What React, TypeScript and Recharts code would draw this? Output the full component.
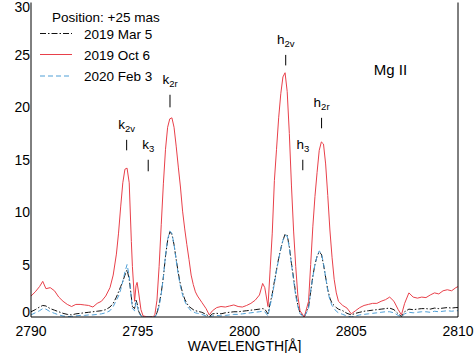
import React from 'react';
import { LineChart, Line, XAxis, YAxis, Legend, ReferenceLine, ReferenceDot } from 'recharts';

const wavelength = [
  2790.0, 2790.2, 2790.4, 2790.55, 2790.7, 2790.9, 2791.1, 2791.3, 2791.5, 2791.7,
  2791.9, 2792.1, 2792.3, 2792.5, 2792.7, 2792.9, 2793.1, 2793.3, 2793.5, 2793.7,
  2793.85, 2794.0, 2794.1, 2794.2, 2794.3, 2794.4, 2794.5, 2794.6, 2794.7, 2794.75,
  2794.85, 2794.92, 2794.97, 2795.05, 2795.15, 2795.25, 2795.5, 2795.7, 2795.8, 2795.9,
  2796.0, 2796.1, 2796.2, 2796.3, 2796.4, 2796.5, 2796.6, 2796.7, 2796.8, 2796.9,
  2797.0, 2797.1, 2797.2, 2797.3, 2797.4, 2797.5, 2797.6, 2797.7, 2797.8, 2798.0,
  2798.2, 2798.35, 2798.5, 2798.7, 2798.9, 2799.1, 2799.3, 2799.5, 2799.7, 2799.9,
  2800.1, 2800.3, 2800.5, 2800.7, 2800.85, 2800.95, 2801.1, 2801.2, 2801.3, 2801.4,
  2801.5, 2801.6, 2801.7, 2801.8, 2801.9, 2802.0, 2802.1, 2802.2, 2802.3, 2802.4,
  2802.5, 2802.6, 2802.8, 2803.0, 2803.1, 2803.2, 2803.3, 2803.4, 2803.5, 2803.6,
  2803.7, 2803.8, 2803.9, 2804.0, 2804.1, 2804.2, 2804.3, 2804.4, 2804.6, 2804.8,
  2805.0, 2805.2, 2805.4, 2805.6, 2805.8, 2806.0, 2806.2, 2806.4, 2806.6, 2806.8,
  2807.0, 2807.2, 2807.35, 2807.5, 2807.7, 2807.9, 2808.1, 2808.3, 2808.5, 2808.7,
  2808.9, 2809.1, 2809.3, 2809.5, 2809.7, 2809.9, 2810.0,
];

const oct6 = [
  2.0, 2.4, 2.9, 3.4, 2.7, 2.8, 2.5, 1.9, 1.5, 1.2,
  1.0, 1.2, 1.2, 1.15, 1.1, 0.95, 1.3, 1.5, 2.0, 2.8,
  4.0, 6.0, 8.0, 10.5, 12.8, 14.1, 14.2, 12.8, 7.2, 4.8,
  1.5, 3.0, 3.3, 2.2, 0.7, 0.1, 0.0, 0.0, 0.2, 1.6,
  4.8, 8.8, 12.7, 16.0, 18.1, 18.9, 19.0, 18.1, 16.3, 14.3,
  12.4, 10.1, 8.4, 6.9, 5.5, 4.0, 3.1, 2.4, 2.0, 1.4,
  0.8, 0.2, 0.6, 0.9, 1.0, 0.95, 1.05, 1.15, 1.0, 0.95,
  1.1, 1.3, 1.6, 2.1, 3.2, 2.8, 1.0, 4.5, 8.0, 13.0,
  16.0, 19.0, 21.3, 22.9, 23.3, 21.5, 17.5, 12.5, 8.2, 4.8,
  2.0, 0.6, 0.0, 1.5, 5.0, 8.6, 11.5, 13.8, 15.9, 16.7,
  16.5, 14.6, 11.6, 8.3, 5.7, 3.6, 2.3, 1.5, 1.1, 0.85,
  0.3, 0.6, 0.9, 1.1, 1.2, 1.3, 1.3, 1.5, 1.65, 1.9,
  1.5, 0.7, 0.2, 1.3, 2.3, 1.9, 1.8, 1.9, 1.85, 2.1,
  2.3, 2.2, 2.5, 2.6, 2.5, 2.8, 2.9,
];

const mar5 = [
  0.5, 0.7, 0.95, 1.1, 1.05, 0.8, 0.65, 0.5, 0.35, 0.25,
  0.2, 0.3, 0.35, 0.4, 0.45, 0.5, 0.55, 0.6, 0.7, 0.95,
  1.3, 1.9, 2.4, 2.9, 3.4, 4.0, 4.5, 3.6, 1.9, 1.0,
  0.8, 1.6, 1.3, 0.5, 0.15, 0.0, 0.0, 0.0, 0.05, 0.4,
  1.2, 2.3, 3.8, 5.8, 7.3, 8.1, 7.9, 6.9, 5.5, 4.2,
  3.1, 2.3, 1.7, 1.3, 1.0, 0.85, 0.7, 0.6, 0.55, 0.45,
  0.25, 0.05, 0.3, 0.35, 0.3, 0.4, 0.45, 0.5, 0.5, 0.55,
  0.6, 0.65, 0.7, 0.75, 0.8, 0.75, 0.3, 1.3, 2.2, 3.4,
  4.5, 5.6, 6.5, 7.3, 7.9, 7.8, 6.7, 5.1, 3.7, 2.2,
  1.1, 0.4, 0.0, 1.0, 2.4, 3.9, 5.0, 5.8, 6.2, 6.0,
  5.0, 3.8, 2.6, 1.8, 1.3, 1.1, 0.9, 0.75, 0.6, 0.35,
  0.2, 0.35, 0.45, 0.55, 0.6, 0.65, 0.7, 0.75, 0.8, 0.85,
  0.7, 0.3, 0.05, 0.5, 0.75, 0.7, 0.75, 0.8, 0.8, 0.75,
  0.85, 0.8, 0.85, 0.9, 0.85, 0.9, 0.9,
];

const feb3 = [
  0.2, 0.4, 0.6, 0.8, 0.75, 0.5, 0.35, 0.2, 0.1, 0.05,
  0.05, 0.1, 0.15, 0.15, 0.2, 0.2, 0.25, 0.3, 0.4, 0.6,
  1.0, 1.6, 2.0, 2.6, 3.4, 4.3, 5.0, 3.9, 1.8, 0.8,
  0.6, 1.4, 1.1, 0.4, 0.1, 0.0, 0.0, 0.0, 0.0, 0.3,
  1.0, 2.2, 3.8, 5.9, 7.4, 8.2, 8.0, 6.9, 5.4, 4.0,
  2.9, 2.1, 1.5, 1.1, 0.8, 0.6, 0.5, 0.4, 0.35, 0.25,
  0.1, 0.0, 0.1, 0.15, 0.1, 0.15, 0.2, 0.25, 0.25, 0.3,
  0.35, 0.4, 0.45, 0.5, 0.55, 0.5, 0.1, 1.1, 2.0, 3.2,
  4.4, 5.5, 6.5, 7.3, 7.8, 7.7, 6.6, 5.0, 3.5, 2.0,
  1.0, 0.3, 0.0, 0.8, 2.5, 3.8, 5.0, 5.8, 6.3, 6.1,
  5.1, 3.8, 2.5, 1.6, 1.1, 0.8, 0.55, 0.4, 0.25, 0.1,
  0.0, 0.1, 0.2, 0.25, 0.3, 0.35, 0.4, 0.45, 0.5, 0.5,
  0.4, 0.15, 0.0, 0.3, 0.45, 0.4, 0.45, 0.5, 0.5, 0.45,
  0.55, 0.5, 0.55, 0.6, 0.55, 0.6, 0.6,
];

const xMajorTicks = [2790, 2795, 2800, 2805, 2810];
const xMinorTicks = [
  2790, 2791, 2792, 2793, 2794, 2795, 2796, 2797, 2798, 2799, 2800,
  2801, 2802, 2803, 2804, 2805, 2806, 2807, 2808, 2809, 2810,
];
const yMajorTicks = [0, 5, 10, 15, 20, 25, 30];
const yMinorTicks = [
  0, 1, 2, 3, 4, 5, 6, 7, 8, 9, 10, 11, 12, 13, 14, 15, 16, 17, 18, 19, 20,
  21, 22, 23, 24, 25, 26, 27, 28, 29, 30,
];

const seriesKeys = ['mar5', 'oct6', 'feb3'];
const seriesNames = ['2019 Mar 5', '2019 Oct 6', '2020 Feb 3'];
const seriesColors = ['#111111', '#e8404a', '#4f9fd6'];
const seriesDash = ['6 2 1.5 2', undefined, '5 3'];

const lineMarks = [
  { base: 'k', sub: '2v', lambda: 2794.48, from: 15.9, to: 16.9 },
  { base: 'k', sub: '3', lambda: 2795.49, from: 13.9, to: 15.0 },
  { base: 'k', sub: '2r', lambda: 2796.51, from: 20.0, to: 21.2 },
  { base: 'h', sub: '2v', lambda: 2801.93, from: 24.0, to: 25.0 },
  { base: 'h', sub: '3', lambda: 2802.73, from: 14.0, to: 15.0 },
  { base: 'h', sub: '2r', lambda: 2803.61, from: 18.0, to: 19.0 },
];

const ionLabel = { text: 'Mg II', lambda: 2806.84, value: 23.1 };
const positionTitle = 'Position: +25 mas';

const data = wavelength.map((w, i) => ({
  w,
  mar5: mar5[i],
  oct6: oct6[i],
  feb3: feb3[i],
}));

const FONT = '"Liberation Sans", Arial, Helvetica, sans-serif';
const THIN = 0.01;

const YTick = (props: any) => {
  const { x, y, payload } = props;
  const yy = Math.min(Math.max(y, 7), 312);
  return (
    <text x={x} y={yy} dy="0.355em" textAnchor="end" fontSize={14} fill="#000" fontFamily={FONT}>
      {payload.value}
    </text>
  );
};

const LegendBox = () => (
  <svg width={180} height={90} style={{ display: 'block' }}>
    <text x={52} y={22.3} fontSize={13.5} fill="#000" fontFamily={FONT}>
      {positionTitle}
    </text>
    {seriesNames.map((n, i) => {
      const cy = [33.5, 54.5, 76][i];
      return (
        <g key={n}>
          <line x1={40} x2={72} y1={cy} y2={cy} stroke={seriesColors[i]} strokeWidth={1} strokeDasharray={seriesDash[i]} />
          <text x={84} y={cy + 5} fontSize={13.5} fill="#000" fontFamily={FONT}>
            {n}
          </text>
        </g>
      );
    })}
  </svg>
);

const markLabel = (base: string, sub: string) => (props: any) => {
  const vb = props.viewBox || {};
  return (
    <text x={vb.x} y={vb.y - 11} textAnchor="middle" fontSize={13.5} fill="#000" fontFamily={FONT}>
      {base}
      <tspan dy={3} fontSize={9.5}>{sub}</tspan>
    </text>
  );
};

const ionLabelContent = (props: any) => {
  const vb = props.viewBox || {};
  return (
    <text x={vb.x} y={vb.y} textAnchor="middle" fontSize={15} fill="#000" fontFamily={FONT}>
      {ionLabel.text}
    </text>
  );
};

export default function App() {
  const common = { type: 'number' as const, allowDataOverflow: true, interval: 0 as const };
  return (
    <div style={{ position: 'absolute', left: 0, top: 0, width: 474, height: 353, background: '#fff', fontFamily: FONT }}>
      <LineChart width={474} height={353} data={data} margin={{ top: 2.5, right: 16, bottom: 0, left: 0 }}>
        <XAxis
          xAxisId="x"
          dataKey="w"
          {...common}
          domain={[2790, 2810]}
          ticks={xMajorTicks}
          height={36}
          tickLine={false}
          tickSize={0}
          tickMargin={9}
          axisLine={{ stroke: '#000' }}
          tick={{ fill: '#000', fontSize: 14 }}
          label={{ value: 'WAVELENGTH[Å]', position: 'insideBottom', offset: 2, fill: '#000', fontSize: 14 }}
        />
        <XAxis xAxisId="xMaj" {...common} domain={[2790, 2810]} ticks={xMajorTicks} mirror height={THIN} tick={false} axisLine={false} tickSize={7} tickLine={{ stroke: '#000' }} />
        <XAxis xAxisId="xMin" {...common} domain={[2790, 2810]} ticks={xMinorTicks} mirror height={THIN} tick={false} axisLine={false} tickSize={4} tickLine={{ stroke: '#000' }} />
        <YAxis
          yAxisId="y"
          {...common}
          domain={[0, 30]}
          ticks={yMajorTicks}
          width={31}
          tickLine={false}
          tickSize={0}
          tickMargin={1}
          axisLine={{ stroke: '#000' }}
          tick={<YTick />}
        />
        <YAxis yAxisId="yMaj" {...common} domain={[0, 30]} ticks={yMajorTicks} mirror width={THIN} tick={false} axisLine={false} tickSize={7} tickLine={{ stroke: '#000' }} />
        <YAxis yAxisId="yMin" {...common} domain={[0, 30]} ticks={yMinorTicks} mirror width={THIN} tick={false} axisLine={false} tickSize={4} tickLine={{ stroke: '#000' }} />
        <YAxis yAxisId="yR" orientation="right" {...common} domain={[0, 30]} ticks={yMajorTicks} mirror width={THIN} tick={false} axisLine={{ stroke: '#000' }} tickSize={7} tickLine={{ stroke: '#000' }} />
        <YAxis yAxisId="yRMin" orientation="right" {...common} domain={[0, 30]} ticks={yMinorTicks} mirror width={THIN} tick={false} axisLine={false} tickSize={4} tickLine={{ stroke: '#000' }} />

        <Legend
          layout="vertical"
          align="center"
          verticalAlign="middle"
          content={<LegendBox />}
          wrapperStyle={{ left: 0, top: 0, width: 180, height: 90 }}
        />

        {seriesKeys.map((k, i) => (
          <Line
            key={k}
            xAxisId="x"
            yAxisId="y"
            dataKey={k}
            name={seriesNames[i]}
            stroke={seriesColors[i]}
            strokeWidth={1}
            strokeDasharray={seriesDash[i]}
            dot={false}
            activeDot={false}
            type="linear"
            isAnimationActive={false}
          />
        ))}

        {lineMarks.map((m) => (
          <ReferenceLine
            key={m.base + m.sub}
            xAxisId="x"
            yAxisId="y"
            segment={[{ x: m.lambda, y: m.from }, { x: m.lambda, y: m.to }]}
            stroke="#000"
            strokeWidth={1}
            label={markLabel(m.base, m.sub)}
          />
        ))}

        <ReferenceDot
          xAxisId="x"
          yAxisId="y"
          x={ionLabel.lambda}
          y={ionLabel.value}
          r={0}
          fill="none"
          stroke="none"
          label={ionLabelContent}
        />
      </LineChart>
    </div>
  );
}
